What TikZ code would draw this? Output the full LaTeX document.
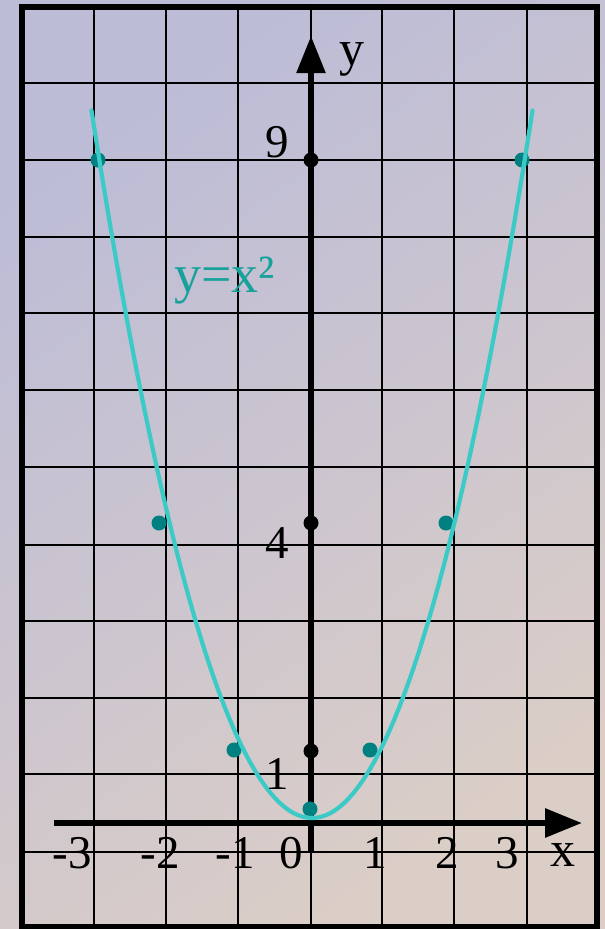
\documentclass[tikz,border=0pt]{standalone}
\usepackage{fontspec}
\setmainfont{Liberation Serif}
\usetikzlibrary{arrows.meta}
\definecolor{cpaperA}{HTML}{BCBCD7}
\definecolor{cpaperB}{HTML}{DBCEC7}
\definecolor{cteal}{HTML}{008080}
\definecolor{cturq}{HTML}{3CCAC6}
\definecolor{cformula}{HTML}{17A19B}
\tikzset{
  gridline/.style={line width=2.6pt,black},
  frameline/.style={line width=6pt,black},
  axisline/.style={line width=5.5pt,black,-{Triangle[length=37pt,width=28pt]}},
  graphline/.style={line width=4.2pt,cturq,line cap=round,line join=round},
  valpt/.style={circle,fill=cteal,inner sep=0pt,minimum size=15pt},
  tickpt/.style={circle,fill=black,inner sep=0pt,minimum size=15pt},
  numlab/.style={inner sep=0pt,anchor=base,font=\fontsize{47}{50}\selectfont},
  letlab/.style={inner sep=0pt,anchor=base,font=\fontsize{50}{54}\selectfont},
}

\begin{document}
\begin{tikzpicture}[x=1pt,y=-1pt]
  % paper, squared grid and frame
  \useasboundingbox (0,0) rectangle (605,929);
  \shade[top color=cpaperA,bottom color=cpaperB,shading angle=35] (0,0) rectangle (605,929);
  \foreach \gx in {94,166,238,311,382,454,527}
    \draw[gridline] (\gx,7) -- (\gx,927);
  \foreach \gy in {83,160,237,313,390,467,545,621,698,774,852}
    \draw[gridline] (22,\gy) -- (597,\gy);
  \draw[frameline] (22,7) rectangle (597,927);

  % axes
  \coordinate (ybot) at (311,852);
  \coordinate (ytop) at (311,36);
  \coordinate (xleft) at (54,823);
  \coordinate (xright) at (582,823);
  \draw[axisline] (ybot) -- (ytop);
  \draw[axisline,line width=6pt] (xleft) -- (xright);

  % marks on the y-axis and the table points
  \node[tickpt] (t9) at (311,160) {};
  \node[tickpt] (t4) at (311,523) {};
  \node[tickpt] (t1) at (311,751) {};
  \node[valpt] (pm3) at (98,160) {};
  \node[valpt] (pp3) at (522,160) {};
  \node[valpt] (pm2) at (159,523) {};
  \node[valpt] (pp2) at (446,523) {};
  \node[valpt] (pm1) at (234,750) {};
  \node[valpt] (pp1) at (370,750) {};
  \node[valpt] (p0) at (310,809) {};

  % the parabola
  \draw[graphline] plot[domain=-26.6:26.6,samples=90]
    ({312+8.29*\x},{818-\x*\x});

  % labels
  \node[numlab] (n9) at (277,157) {9};
  \node[numlab] (n4) at (277,558) {4};
  \node[numlab] (n1) at (277,789) {1};
  \node[numlab] (xm3) at (72,868) {-3};
  \node[numlab] (xm2) at (160,868) {-2};
  \node[numlab] (xm1) at (235,868) {-1};
  \node[numlab] (x0) at (291,868) {0};
  \node[numlab] (xp1) at (375,868) {1};
  \node[numlab] (xp2) at (447,868) {2};
  \node[numlab] (xp3) at (507,868) {3};
  \node[letlab] (xname) at (563,866) {x};
  \node[letlab] (yname) at (352,65) {y};
  \node[letlab,anchor=base west,text=cformula,font=\fontsize{54}{58}\selectfont] (formula) at (174,292) {y=x²};
\end{tikzpicture}
\end{document}
